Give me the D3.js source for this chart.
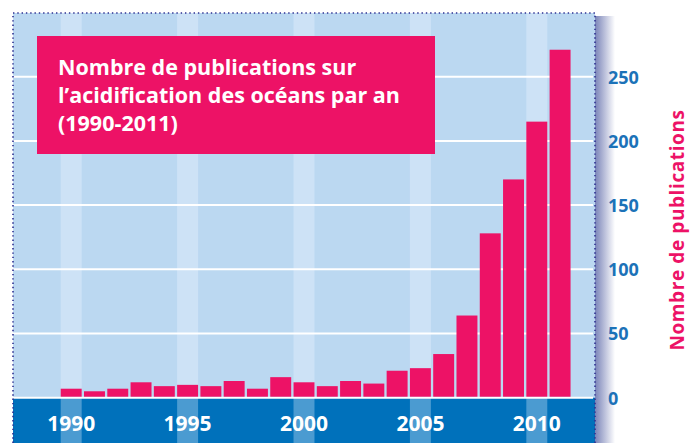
<!DOCTYPE html>
<html>
<head>
<meta charset="utf-8">
<script src="https://cdn.jsdelivr.net/npm/d3@7"></script>
<style>
  body { margin: 0; background: #fff; }
  svg { display: block; font-family: "Open Sans", Lato, sans-serif; }
</style>
</head>
<body>
<svg width="692" height="443"></svg>
<script>
// data
var years = [1990, 1991, 1992, 1993, 1994, 1995, 1996, 1997, 1998, 1999, 2000,
             2001, 2002, 2003, 2004, 2005, 2006, 2007, 2008, 2009, 2010, 2011];
var counts = [7, 5, 7, 12, 9, 10, 9, 13, 7, 16, 12,
              9, 13, 11, 21, 23, 34, 64, 128, 170, 215, 271];
var slots = d3.range(1988, 2013);
var stripeYears = [1990, 1995, 2000, 2005, 2010];
var yTicks = [0, 50, 100, 150, 200, 250];
var titleLines = ["Nombre de publications sur", "l\u2019acidification des océans par an", "(1990-2011)"];
var axisTitle = "Nombre de publications";

var svg = d3.select("svg");
var pLeft = 13, pRight = 595, pTop = 13, pBottom = 443, base = 397.7;

var x = d3.scaleBand().domain(slots).range([pLeft, pRight]).paddingInner(0.1).paddingOuter(0.05);
var y = d3.scaleLinear().domain([0, 300]).range([base, 12.5]);

// shadow on the right
var defs = svg.append("defs");
var grad = defs.append("linearGradient").attr("id", "shadow");
grad.append("stop").attr("offset", "0%").attr("stop-color", "#7a84b8");
grad.append("stop").attr("offset", "100%").attr("stop-color", "#ffffff");
svg.append("rect").attr("x", pRight).attr("y", pTop + 3).attr("width", 20)
    .attr("height", pBottom - pTop).attr("fill", "url(#shadow)");

// panel background
svg.append("rect").attr("x", pLeft).attr("y", pTop).attr("width", pRight - pLeft)
    .attr("height", base - pTop).attr("fill", "#bbd8f1");
svg.append("rect").attr("x", pLeft).attr("y", base).attr("width", pRight - pLeft)
    .attr("height", pBottom - base).attr("fill", "#0071bb");

// light stripes
svg.selectAll("rect.stripe")
    .data(stripeYears)
    .enter()
    .append("rect")
    .attr("class", "stripe")
    .attr("x", d => x(d))
    .attr("y", pTop)
    .attr("width", x.bandwidth())
    .attr("height", base - pTop)
    .attr("fill", "#cde2f6");
svg.selectAll("rect.stripe2")
    .data(stripeYears)
    .enter()
    .append("rect")
    .attr("class", "stripe2")
    .attr("x", d => x(d))
    .attr("y", base)
    .attr("width", x.bandwidth())
    .attr("height", pBottom - base)
    .attr("fill", "#4b9bd1");

// gridlines
svg.selectAll("line.grid")
    .data(yTicks)
    .enter()
    .append("line")
    .attr("x1", pLeft)
    .attr("x2", pRight - 2)
    .attr("y1", d => y(d))
    .attr("y2", d => y(d))
    .attr("stroke", "#fff")
    .attr("stroke-width", 2);

// bars
svg.selectAll("rect.bar")
    .data(years)
    .enter()
    .append("rect")
    .attr("class", "bar")
    .attr("x", d => x(d))
    .attr("width", x.bandwidth())
    .attr("y", (d, i) => y(counts[i]))
    .attr("height", (d, i) => y(0) - y(counts[i]) - 1)
    .attr("fill", "#ed1266");

// dotted border
var dots = svg.append("g")
    .attr("fill", "none")
    .attr("stroke", "#2e3192")
    .attr("stroke-width", 1.6)
    .attr("stroke-dasharray", "1.4,2.9");
dots.append("path")
    .attr("d", `M${pLeft},${pBottom} L${pLeft},${pTop} L${pRight},${pTop} L${pRight},${pBottom}`);

// x axis labels
var xAxis = d3.axisBottom(x).tickValues(stripeYears).tickSize(0).tickPadding(0);
var gx = svg.append("g")
    .attr("transform", `translate(0,${base})`)
    .call(xAxis);
gx.select(".domain").remove();
gx.selectAll("text")
    .attr("dy", null)
    .attr("y", 33)
    .attr("fill", "#fff")
    .attr("font-size", 21)
    .attr("font-weight", "bold")
    .attr("font-family", "'Open Sans', sans-serif");

// y axis labels
var yAxis = d3.axisRight(y).tickValues(yTicks).tickSize(0).tickPadding(0);
var gy = svg.append("g")
    .attr("transform", `translate(608,0)`)
    .call(yAxis);
gy.select(".domain").remove();
gy.selectAll("text")
    .attr("x", 0)
    .attr("dy", "0.35em")
    .attr("fill", "#1c72b8")
    .attr("font-size", 18)
    .attr("font-weight", "bold")
    .attr("font-family", "'Open Sans', sans-serif");

// axis title
svg.append("text")
    .attr("transform", "translate(684,230) rotate(-90)")
    .attr("text-anchor", "middle")
    .attr("fill", "#ed1266")
    .attr("font-size", 19)
    .attr("letter-spacing", 0.6)
    .attr("font-weight", "bold")
    .text(axisTitle);

// title box
svg.append("rect")
    .attr("x", 37).attr("y", 36).attr("width", 398).attr("height", 118)
    .attr("fill", "#ed1266");
svg.append("g")
    .selectAll("text")
    .data(titleLines)
    .enter()
    .append("text")
    .attr("x", 58)
    .attr("y", (d, i) => 75 + i * 28)
    .attr("fill", "#fff")
    .attr("font-size", 21.5)
    .attr("font-weight", "bold")
    .text(d => d);
</script>
</body>
</html>
